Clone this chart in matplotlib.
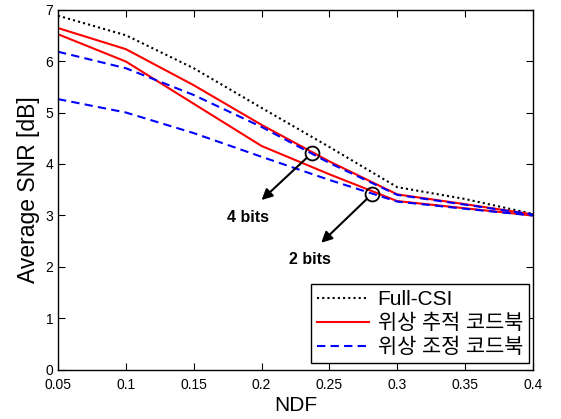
import matplotlib
matplotlib.use("Agg")
import matplotlib.pyplot as plt
from matplotlib.lines import Line2D

plt.rcParams['font.family'] = ['Liberation Sans', 'Noto Sans CJK KR', 'DejaVu Sans']

ndf = [0.05, 0.1, 0.15, 0.2, 0.25, 0.3, 0.35, 0.4]
full_csi = [6.88, 6.50, 5.86, 5.09, 4.33, 3.55, 3.32, 3.03]
track_4bit = [6.64, 6.23, 5.53, 4.76, 4.05, 3.41, 3.22, 3.02]
track_2bit = [6.52, 5.99, 5.17, 4.35, 3.80, 3.28, 3.14, 3.00]
adjust_4bit = [6.18, 5.86, 5.34, 4.72, 4.02, 3.40, 3.21, 3.02]
adjust_2bit = [5.26, 5.00, 4.60, 4.14, 3.69, 3.27, 3.13, 3.00]

xticks = [0.05, 0.1, 0.15, 0.2, 0.25, 0.3, 0.35, 0.4]
xticklabels = ['0.05', '0.1', '0.15', '0.2', '0.25', '0.3', '0.35', '0.4']
yticks = [0, 1, 2, 3, 4, 5, 6, 7]

labels = ['Full-CSI', '위상 추적 코드북', '위상 조정 코드북']

# annotation positions (data coords)
circ4 = (0.237, 4.21)
head4 = (0.200, 3.30)
text4 = (0.190, 2.96)
circ2 = (0.2815, 3.42)
head2 = (0.244, 2.47)
text2 = (0.236, 2.14)

fig = plt.figure(figsize=(5.61, 4.19), dpi=100)
ax = fig.add_axes([0.1034, 0.117, 0.8466, 0.8603])

lw = 1.5
ax.plot(ndf, full_csi, color='black', linestyle=(0, (1, 1.5)), linewidth=lw)
ax.plot(ndf, track_4bit, color='red', linestyle='-', linewidth=lw)
ax.plot(ndf, track_2bit, color='red', linestyle='-', linewidth=lw)
ax.plot(ndf, adjust_4bit, color='blue', linestyle=(0, (4, 2.5)), linewidth=lw)
ax.plot(ndf, adjust_2bit, color='blue', linestyle=(0, (4, 2.5)), linewidth=lw)

for c, h, t, s in [(circ4, head4, text4, '4 bits'), (circ2, head2, text2, '2 bits')]:
    ax.plot([c[0]], [c[1]], marker='o', markersize=10, markerfacecolor='none',
            markeredgecolor='black', markeredgewidth=1.3, linestyle='none')
    ax.annotate('', xy=h, xytext=c,
                arrowprops=dict(arrowstyle='-|>', color='black', lw=1.5,
                                mutation_scale=16, shrinkA=5, shrinkB=0))
    ax.text(t[0], t[1], s, fontsize=11.5, fontweight='bold', ha='center', va='center')

ax.set_xlim(0.05, 0.4)
ax.set_ylim(0, 7)
ax.set_xticks(xticks)
ax.set_xticklabels(xticklabels)
ax.set_yticks(yticks)
ax.tick_params(direction='in', top=True, right=True, labelsize=10, length=5, width=0.8)
ax.tick_params(axis='x', pad=5.5)
for sp in ax.spines.values():
    sp.set_linewidth(1.0)

ax.set_xlabel('NDF', fontsize=15, labelpad=3)
ax.set_ylabel('Average SNR [dB]', fontsize=16.5, labelpad=4)

handles = [
    Line2D([], [], color='black', linestyle=(0, (1, 1.5)), linewidth=lw),
    Line2D([], [], color='red', linestyle='-', linewidth=lw),
    Line2D([], [], color='blue', linestyle=(0, (4, 2.5)), linewidth=lw),
]
leg = ax.legend(handles, labels, loc='lower right', bbox_to_anchor=(0.992, 0.019),
                borderaxespad=0, fontsize=15, frameon=True, fancybox=False,
                edgecolor='black', framealpha=1, handlelength=2.5,
                handletextpad=0.4, labelspacing=0.22, borderpad=0.3)
leg.get_frame().set_linewidth(1.0)

fig.savefig('out.png', dpi=100)
